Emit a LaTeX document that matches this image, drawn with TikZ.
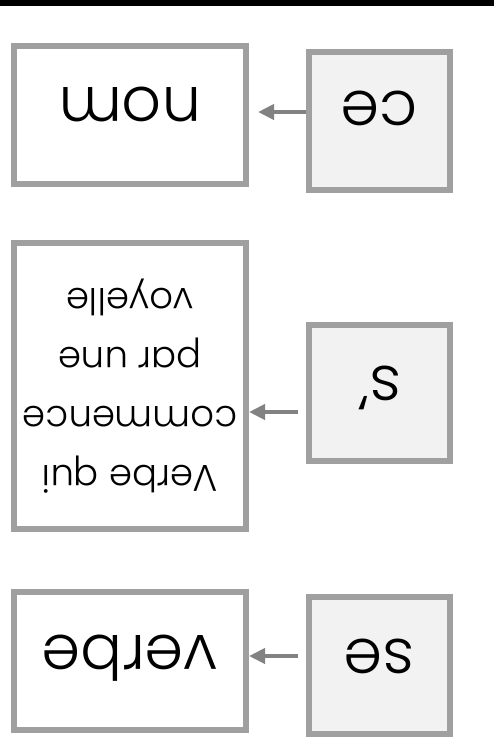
\documentclass[tikz,border=0pt]{standalone}
\usepackage{fontspec}
\setmainfont{Poppins}[UprightFont=* Light]
\usetikzlibrary{arrows.meta}
\definecolor{boxgray}{HTML}{A0A0A0}
\definecolor{arrgray}{HTML}{828282}
\definecolor{lightfill}{HTML}{F2F2F2}
\tikzset{
  bigbox/.style={draw=boxgray, line width=6pt, fill=white, inner sep=0pt,
    minimum width=232pt, text=black, rotate=180, align=center},
  smallbox/.style={draw=boxgray, line width=6pt, fill=lightfill, inner sep=0pt,
    minimum width=141pt, text=black, rotate=180},
  arr/.style={draw=arrgray, line width=4pt, -{Triangle[length=16pt,width=15pt]}},
  bigtxt/.style={font=\fontsize{62}{64}\selectfont, text height=56pt, text depth=0pt},
  midtxt/.style={font=\fontsize{37}{59}\selectfont}
}
\begin{document}
\begin{tikzpicture}[x=1pt,y=-1pt]
\useasboundingbox (0,0) rectangle (494,737);
\fill[black] (0,0) rectangle (494,6);
% top row
\node[bigbox, minimum height=138pt, bigtxt] (nom) at (130,115) {nom};
\node[smallbox, minimum height=138pt, bigtxt, text height=60pt] (ce) at (379.5,121) {ce};
% middle row
\node[bigbox, minimum height=286pt, midtxt] (verbeV) at (130,386) {Verbe qui\\commence\\par une\\voyelle};
\node[smallbox, minimum height=136pt, bigtxt, text height=54pt] (sapo) at (379.5,393) {s’};
% bottom row
\node[bigbox, minimum height=138pt, bigtxt, text height=52pt] (verbe) at (130,661) {verbe};
\node[smallbox, minimum height=137pt, bigtxt, text height=53pt] (se) at (379.5,665.5) {se};
% arrows
\draw[arr, shorten >=9pt] (ce.east |- 0,112) -- (nom.west |- 0,112);
\draw[arr, shorten <=8pt] (sapo.east |- 0,412) -- (verbeV.west |- 0,412);
\draw[arr, shorten <=8pt] (se.east |- 0,656) -- (verbe.west |- 0,656);
\end{tikzpicture}
\end{document}
